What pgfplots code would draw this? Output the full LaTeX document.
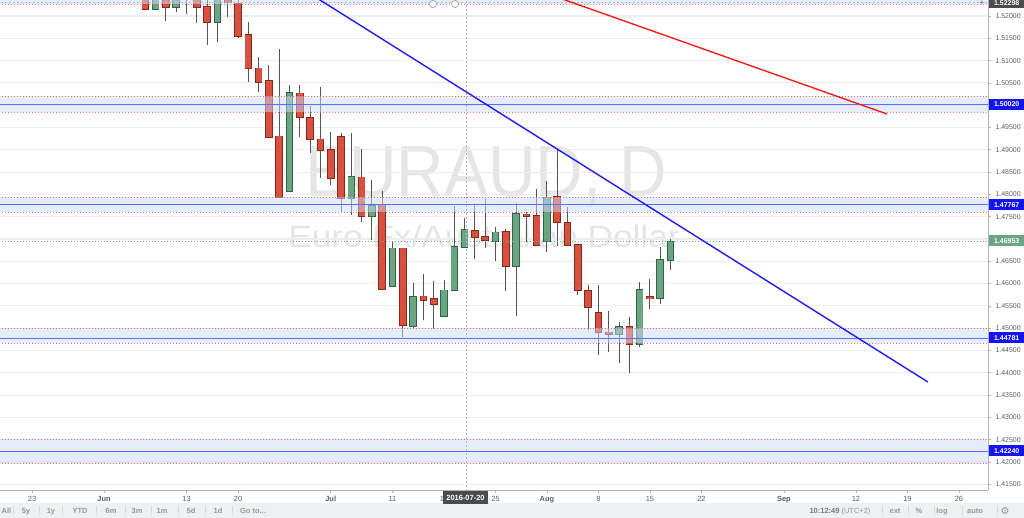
\documentclass[border=0pt]{standalone}
\usepackage{pgfplots}
\pgfplotsset{compat=1.18}
\usepackage{pgfplotstable}
\usepackage{fontspec}
\setmainfont{Liberation Sans}
\newfontfamily\dejavu{DejaVu Sans}
\definecolor{upfill}{RGB}{107,165,131}
\definecolor{upline}{RGB}{45,100,68}
\definecolor{dnfill}{RGB}{214,82,62}
\definecolor{dnline}{RGB}{135,40,30}
\definecolor{wick}{RGB}{85,85,85}
\definecolor{zonefill}{RGB}{205,221,249}
\definecolor{zoneline}{RGB}{90,110,250}
\definecolor{zonered}{RGB}{235,70,70}
\definecolor{gridc}{RGB}{237,237,237}
\definecolor{axisc}{RGB}{175,178,185}
\definecolor{labc}{RGB}{95,95,95}
\definecolor{wm}{RGB}{229,229,229}
\definecolor{tbbg}{RGB}{238,240,243}
\definecolor{tbtext}{RGB}{150,150,150}
\definecolor{boxblue}{RGB}{20,20,240}
\definecolor{boxgreen}{RGB}{107,165,131}
\definecolor{boxdark}{RGB}{75,75,75}
\definecolor{trendblue}{RGB}{30,30,235}
\definecolor{trendred}{RGB}{240,30,30}
\definecolor{pricegreen}{RGB}{110,180,130}

% bearish (red) candles: index o h l c
\pgfplotstableread{
i o h l c
-44 1.5245 1.5260 1.5214 1.52157
-42 1.5240 1.5260 1.51888 1.52202
-40 1.5260 1.5270 1.52045 1.5250
-39 1.5240 1.5260 1.51843 1.52202
-38 1.52224 1.5245 1.51350 1.51865
-36 1.5240 1.5260 1.51978 1.52314
-35 1.52269 1.5245 1.51507 1.51552
-34 1.51574 1.51865 1.50520 1.50834
-33 1.50834 1.51081 1.50296 1.50520
-32 1.50543 1.50901 1.49287 1.49287
-31 1.49309 1.51260 1.47919 1.47942
-29 1.50274 1.50453 1.49287 1.49735
-28 1.49735 1.49982 1.48928 1.49242
-27 1.49242 1.50408 1.48368 1.48996
-26 1.48996 1.49399 1.48211 1.48368
-25 1.49309 1.49377 1.47605 1.47919
-23 1.48390 1.49018 1.47381 1.47516
-21 1.47762 1.48076 1.45857 1.45879
-19 1.46798 1.46798 1.44803 1.45072
-17 1.45722 1.46215 1.45184 1.45632
-16 1.45655 1.46058 1.44982 1.45543
-12 1.47202 1.47785 1.46552 1.47045
-11 1.47045 1.47897 1.46798 1.46978
-9 1.47157 1.47224 1.45834 1.46395
-7 1.47561 1.47605 1.46933 1.47516
-6 1.47516 1.48121 1.46865 1.46865
-4 1.47942 1.49040 1.46843 1.47381
-3 1.47359 1.47717 1.46865 1.46865
-2 1.46865 1.46865 1.45745 1.45857
-1 1.45834 1.45969 1.44960 1.45475
0 1.45341 1.45969 1.44399 1.44915
1 1.44915 1.45386 1.44466 1.44870
3 1.45027 1.45251 1.43996 1.44646
5 1.45700 1.46103 1.45430 1.45677
}\dncandles

% bullish (green) candles: index o h l c
\pgfplotstableread{
i o h l c
-43 1.52157 1.5260 1.5214 1.5245
-41 1.52202 1.5260 1.5209 1.5240
-37 1.51865 1.5260 1.51417 1.5240
-30 1.48076 1.50453 1.48054 1.50274
-24 1.47919 1.49377 1.47538 1.48390
-22 1.47516 1.48323 1.46978 1.47762
-20 1.45946 1.46955 1.45924 1.46798
-18 1.45049 1.46013 1.45004 1.45722
-15 1.45274 1.46081 1.45251 1.45857
-14 1.45857 1.47740 1.45857 1.46821
-13 1.46821 1.47471 1.46821 1.47202
-10 1.46955 1.47269 1.46507 1.47157
-8 1.46395 1.47807 1.45274 1.47561
-5 1.46955 1.48300 1.46709 1.47942
2 1.44870 1.45139 1.44220 1.45027
4 1.44646 1.46036 1.44578 1.45857
6 1.45677 1.46821 1.45543 1.46529
7 1.46529 1.47000 1.46305 1.46955
}\upcandles

\pgfplotsset{
  wickstyle/.style={forget plot, draw=none, mark=none,
    error bars/.cd, y dir=both, y explicit, error mark=none,
    error bar style={draw=wick, line width=1bp}},
  bodystyle/.style 2 args={forget plot, draw=none, mark=none,
    error bars/.cd, y dir=both, y explicit, error mark=none,
    error bar style={draw=#1, line width=#2}},
}

\begin{document}
\begin{tikzpicture}
\useasboundingbox (0,0) rectangle (1024bp,518bp);
\fill[white] (0,0) rectangle (1024bp,518bp);
\fill[tbbg] (0,0) rectangle (1024bp,15bp);

% watermark
\begin{scope}[x=1bp,y=-1bp,yshift=518bp]
\node[anchor=base, text=wm, inner sep=0] at (486.5,197) {\scalebox{0.91}[1]{\fontsize{72.6}{72.6}\selectfont EURAUD, D}};
\node[anchor=base, text=wm, inner sep=0] at (484,248) {\scalebox{1.14}[1]{\fontsize{31}{31}\selectfont Euro Fx/Australian Dollar}};
\end{scope}

\begin{axis}[
  at={(0,28bp)}, anchor=south west,
  width=988bp, height=490bp, scale only axis,
  xmin=-58.11, xmax=37.82, ymin=1.41372, ymax=1.52359,
  axis x line*=bottom, axis y line*=right,
  axis line style={-, draw=axisc, line width=0.9bp},
  tick style={draw=axisc, line width=0.6bp},
  major tick length=3bp, tick align=outside,
  scaled y ticks=false,
  ytick={1.415,1.42,1.425,1.43,1.435,1.44,1.445,1.45,1.455,1.46,1.465,1.47,1.475,1.48,1.485,1.49,1.495,1.5,1.505,1.51,1.515,1.52},
  yticklabel style={font=\fontsize{7}{8}\selectfont, text=labc, anchor=west, xshift=1bp,
    /pgf/number format/.cd, fixed, fixed zerofill, precision=5, assume math mode=true},
  xtick={-55,-48,-40,-35,-26,-20,-15,-10,-5,0,5,10,18,25,30,35},
  xticklabels={23,\textbf{Jun},13,20,\textbf{Jul},11,18,25,\textbf{Aug},8,15,22,\textbf{Sep},12,19,26},
  xticklabel style={font=\fontsize{7.5}{8}\selectfont, text=labc},
  ymajorgrids, grid style={draw=gridc, line width=1.1bp},
  clip=true,
]
% wicks
\addplot[wickstyle] table[x=i, y expr={(\thisrow{h}+\thisrow{l})/2}, y error expr={(\thisrow{h}-\thisrow{l})/2}] {\dncandles};
\addplot[wickstyle] table[x=i, y expr={(\thisrow{h}+\thisrow{l})/2}, y error expr={(\thisrow{h}-\thisrow{l})/2}] {\upcandles};
% bodies: outline then fill
\addplot[bodystyle={dnline}{7.6bp}] table[x=i, y expr={(\thisrow{o}+\thisrow{c})/2}, y error expr={abs(\thisrow{o}-\thisrow{c})/2+0.00012}] {\dncandles};
\addplot[bodystyle={dnfill}{5.8bp}] table[x=i, y expr={(\thisrow{o}+\thisrow{c})/2}, y error expr={max(abs(\thisrow{o}-\thisrow{c})/2-0.0001,0.00001)}] {\dncandles};
\addplot[bodystyle={upline}{7.6bp}] table[x=i, y expr={(\thisrow{o}+\thisrow{c})/2}, y error expr={abs(\thisrow{o}-\thisrow{c})/2+0.00012}] {\upcandles};
\addplot[bodystyle={upfill}{5.8bp}] table[x=i, y expr={(\thisrow{o}+\thisrow{c})/2}, y error expr={max(abs(\thisrow{o}-\thisrow{c})/2-0.0001,0.00001)}] {\upcandles};

% zones (semi transparent over candles)
\addplot[forget plot, draw=none, fill=zonefill, fill opacity=0.5] coordinates {(-60,1.5226) (40,1.5226) (40,1.5300) (-60,1.5300)};
\addplot[forget plot, draw=none, fill=zonefill, fill opacity=0.5] coordinates {(-60,1.49848) (40,1.49848) (40,1.50206) (-60,1.50206)};
\addplot[forget plot, draw=none, fill=zonefill, fill opacity=0.5] coordinates {(-60,1.47605) (40,1.47605) (40,1.47942) (-60,1.47942)};
\addplot[forget plot, draw=none, fill=zonefill, fill opacity=0.5] coordinates {(-60,1.44668) (40,1.44668) (40,1.45004) (-60,1.45004)};
\addplot[forget plot, draw=none, fill=zonefill, fill opacity=0.5] coordinates {(-60,1.41964) (40,1.41964) (40,1.42516) (-60,1.42516)};
% zone edge lines
\pgfplotsinvokeforeach{1.5226,1.49848,1.50206,1.47605,1.47942,1.44668,1.45004,1.41964,1.42516}{
  \addplot[forget plot, draw=zonered, draw opacity=0.75, line width=0.8bp, dash pattern=on 1.5bp off 1.5bp] coordinates {(-60,#1) (40,#1)};
}
% zone centre lines
\pgfplotsinvokeforeach{1.5002,1.47767,1.44781,1.4224}{
  \addplot[forget plot, draw=zoneline, line width=0.9bp] coordinates {(-60,#1) (40,#1)};
}
% last price line
\addplot[forget plot, draw=pricegreen, line width=0.7bp, dash pattern=on 1.5bp off 1.5bp] coordinates {(-60,1.46953) (40,1.46953)};
% crosshair
\addplot[forget plot, draw=gray!55, line width=0.6bp, dash pattern=on 2bp off 2bp] coordinates {(-12.86,1.40) (-12.86,1.53)};
\addplot[forget plot, draw=gray!55, line width=0.6bp, dash pattern=on 2bp off 2bp] coordinates {(-60,1.52298) (40,1.52298)};
% trend lines
\addplot[forget plot, draw=trendblue, line width=1.4bp] coordinates {(-29.1,1.52658) (31.98,1.43794)};
\addplot[forget plot, draw=trendred, line width=1.4bp] coordinates {(-6,1.52584) (28.01,1.49803)};
% drawing handles
\addplot[forget plot, only marks, mark=*, mark size=3.6bp, mark options={fill=white, draw=gray!70, line width=0.7bp}] coordinates {(-16.07,1.52269) (-13.93,1.52269)};
\end{axis}

\begin{scope}[x=1bp,y=-1bp,yshift=518bp]
% price labels
\tikzset{plab/.style={anchor=west, text=white, inner sep=0pt, minimum width=35bp, minimum height=11bp, font=\fontsize{7}{8}\selectfont\bfseries}}
\node[plab, fill=boxdark] at (989,2.7) {1.52298};
\node[plab, fill=boxblue] at (989,104.3) {1.50020};
\node[plab, fill=boxblue] at (989,204.8) {1.47767};
\node[plab, fill=boxgreen] at (989,241) {1.46953};
\node[plab, fill=boxblue] at (989,338) {1.44781};
\node[plab, fill=boxblue] at (989,451) {1.42240};
\node[text=labc, inner sep=0, font=\fontsize{8}{8}\selectfont] at (982,3.5) {+};
% date crosshair label
\node[fill=boxdark, text=white, inner sep=0pt, minimum width=45bp, minimum height=13bp, font=\fontsize{7.5}{8}\selectfont\bfseries] at (465.5,497.5) {2016-07-20};
% toolbar
\tikzset{tb/.style={text=tbtext, inner sep=0, anchor=base, font=\fontsize{7.5}{8}\selectfont\bfseries}}
\foreach \sx in {13,39,62,96,125,151,178,205,232,882,908,934,962,997}
  \draw[draw=gray!30, line width=0.6bp] (\sx,506.5) -- (\sx,515.5);
\node[tb] at (6.5,513.7) {All};
\node[tb] at (26,513.7) {5y};
\node[tb] at (51,513.7) {1y};
\node[tb] at (80,513.7) {YTD};
\node[tb] at (111,513.7) {6m};
\node[tb] at (137,513.7) {3m};
\node[tb] at (162,513.7) {1m};
\node[tb] at (191,513.7) {5d};
\node[tb] at (218,513.7) {1d};
\node[tb] at (253,513.7) {Go to...};
\node[inner sep=0, anchor=base, font=\fontsize{7.5}{8}\selectfont] at (840,513.7) {\textcolor{gray!95!black}{\textbf{10:12:49}} \textcolor{tbtext}{(UTC+2)}};
\node[tb] at (895,513.7) {ext};
\node[tb] at (919,513.7) {\%};
\node[tb] at (942,513.7) {log};
\node[tb] at (975,513.7) {auto};
\node[text=tbtext, inner sep=0, font=\fontsize{10}{10}\selectfont\dejavu] at (1005,511) {⚙};
\end{scope}
\end{tikzpicture}
\end{document}
